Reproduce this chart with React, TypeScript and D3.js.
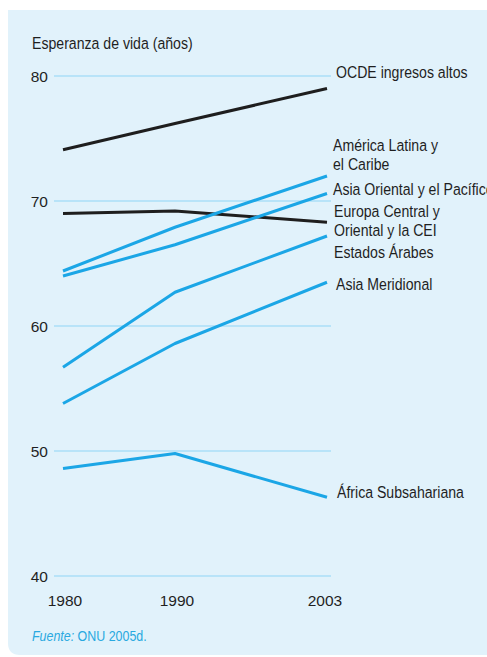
import React from "react";
import * as d3 from "d3";

const years = [1980, 1990, 2003];
const yTicks = [40, 50, 60, 70, 80];

type Series = { name: string; label: string[]; color: "black" | "blue"; values: number[] };

const ocde = [74.1, 76.2, 79.0];
const americaLatina = [64.4, 67.9, 72.0];
const asiaOriental = [64.0, 66.5, 70.6];
const europaCentral = [69.0, 69.2, 68.3];
const estadosArabes = [56.7, 62.7, 67.2];
const asiaMeridional = [53.8, 58.6, 63.5];
const africa = [48.6, 49.8, 46.3];

const series: Series[] = [
  { name: "ocde", label: ["OCDE ingresos altos"], color: "black", values: ocde },
  { name: "europa", label: ["Europa Central y", "Oriental y la CEI"], color: "black", values: europaCentral },
  { name: "america", label: ["América Latina y", "el Caribe"], color: "blue", values: americaLatina },
  { name: "asiaOr", label: ["Asia Oriental y el Pacífico"], color: "blue", values: asiaOriental },
  { name: "arabes", label: ["Estados Árabes"], color: "blue", values: estadosArabes },
  { name: "asiaMer", label: ["Asia Meridional"], color: "blue", values: asiaMeridional },
  { name: "africa", label: ["África Subsahariana"], color: "blue", values: africa },
];

// label layout (baseline of first line, px) – layout only
const labelY: Record<string, number> = {
  ocde: 78, america: 151, asiaOr: 195, europa: 217, arabes: 258, asiaMer: 290, africa: 498,
};
const labelX: Record<string, number> = {
  ocde: 336, america: 333, asiaOr: 333, europa: 334, arabes: 334, asiaMer: 336, africa: 337,
};

const W = 487;
const H = 657;
const FONT = "'Liberation Sans', Arial, Helvetica, sans-serif";
const SQ = 0.83; // horizontal condensing to mimic a narrow face
const BLUE = "#1ba6e6";
const BLACK = "#1e1e1e";
const TXT = "#1f1f1f";

function NarrowText(props: {
  x: number;
  y: number;
  size: number;
  fill: string;
  children: React.ReactNode;
}) {
  return (
    <g transform={`translate(${props.x},${props.y}) scale(${SQ},1)`}>
      <text x={0} y={0} fontSize={props.size} fill={props.fill}>
        {props.children}
      </text>
    </g>
  );
}

export default function App() {
  const x = d3.scaleLinear().domain([1980, 1990, 2003]).range([63, 175, 327]);
  const y = d3.scaleLinear().domain([40, 80]).range([576, 76]);
  const line = d3
    .line<number>()
    .x((_, i) => x(years[i]))
    .y((d) => y(d))
    .curve(d3.curveLinear);

  const bg = `M8,10 H${W} V655 H20 Q8,655 8,643 Z`;

  return (
    <svg
      width={W}
      height={H}
      style={{ position: "absolute", left: 0, top: 0, display: "block" }}
      fontFamily={FONT}
    >
      <rect x={0} y={0} width={W} height={H} fill="#ffffff" />
      <path d={bg} fill="#e1f2fb" />
      <NarrowText x={32} y={49} size={17} fill={TXT}>
        Esperanza de vida (años)
      </NarrowText>
      {yTicks.map((t) => (
        <g key={t}>
          <line x1={54} x2={331} y1={y(t)} y2={y(t)} stroke="#8fd5f6" strokeWidth={1} />
          <text x={48} y={y(t) + 6} fontSize={15.5} textAnchor="end" fill={TXT}>
            {t}
          </text>
        </g>
      ))}
      {years.map((yr) => (
        <text
          key={yr}
          x={x(yr) + (yr === 2003 ? -2 : 2)}
          y={606}
          fontSize={15.5}
          textAnchor="middle"
          fill={TXT}
        >
          {yr}
        </text>
      ))}
      {series.map((s) => (
        <path
          key={s.name}
          d={line(s.values) || ""}
          fill="none"
          stroke={s.color === "black" ? BLACK : BLUE}
          strokeWidth={3}
          strokeLinejoin="round"
        />
      ))}
      {series.map((s) =>
        s.label.map((l, i) => (
          <NarrowText key={s.name + i} x={labelX[s.name]} y={labelY[s.name] + i * 19} size={17} fill={TXT}>
            {l}
          </NarrowText>
        ))
      )}
      <NarrowText x={32} y={641} size={15} fill="#29a9e0">
        <tspan fontStyle="italic">Fuente:</tspan>
        <tspan> ONU 2005d.</tspan>
      </NarrowText>
    </svg>
  );
}
